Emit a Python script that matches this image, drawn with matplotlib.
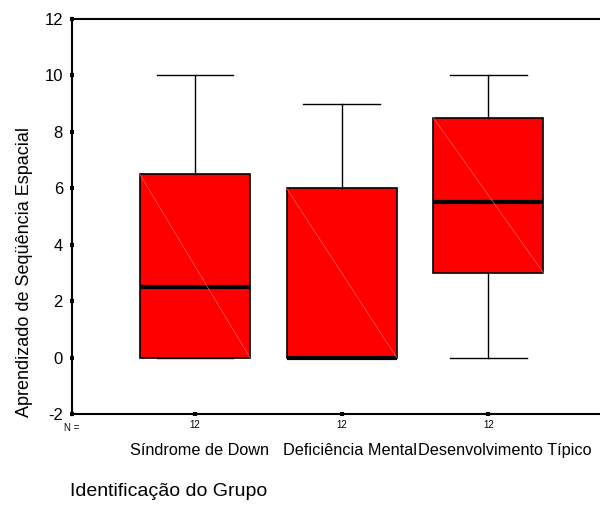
import matplotlib
matplotlib.use("Agg")
from matplotlib import pyplot as plt

# Dados (boxplot estilo SPSS)
grupos   = ["Síndrome de Down", "Deficiência Mental", "Desenvolvimento Típico"]
n_grupo  = [12, 12, 12]
minimos  = [0, 0, 0]
q1       = [0, 0, 3]
medianas = [2.5, 0, 5.5]
q3       = [6.5, 6, 8.5]
maximos  = [10, 9, 10]

plt.rcParams['font.family'] = ['Liberation Sans', 'DejaVu Sans']

fig = plt.figure(figsize=(6, 5.07), dpi=100)
ax = fig.add_axes([0.12, 0.1834, 0.88, 0.7791])

stats = []
for i in range(len(grupos)):
    stats.append({"med": medianas[i], "q1": q1[i], "q3": q3[i],
                  "whislo": minimos[i], "whishi": maximos[i], "fliers": []})

pos = [1, 2, 3]
ax.bxp(stats, positions=pos, widths=0.75, patch_artist=True, showfliers=False,
       boxprops=dict(facecolor="#ff0000", edgecolor="black", linewidth=1.2),
       medianprops=dict(color="black", linewidth=3, solid_capstyle="butt"),
       whiskerprops=dict(color="black", linewidth=1),
       capprops=dict(color="black", linewidth=1), capwidths=0.52)

# linha diagonal clara dentro das caixas (artefato do SPSS)
for i, p in enumerate(pos):
    ax.plot([p - 0.375, p + 0.375], [q3[i], q1[i]], color="#ff6060",
            linewidth=0.5, zorder=3)

ax.set_xlim(0.163, 3.76)
ax.set_ylim(-2, 12)
ax.set_yticks(range(-2, 13, 2))
ax.set_yticklabels([str(v) for v in range(-2, 13, 2)], fontsize=12)
ax.set_xticks(pos)
ax.set_xticklabels([str(n) for n in n_grupo], fontsize=7)
ax.tick_params(axis="both", direction="inout", length=3, width=3)
ax.tick_params(axis="y", pad=5)
ax.tick_params(axis="x", pad=3)
ax.spines["right"].set_visible(False)
for s in ["left", "bottom", "top"]:
    ax.spines[s].set_linewidth(1.5)

ax.annotate("N =", xy=(0, 0), xycoords="axes fraction", xytext=(0, -10),
            textcoords="offset points", fontsize=7, ha="center", va="center")

# os rótulos do SPSS ficam um pouco deslocados à direita dos ticks
desloc = [3, 6, 12]
for i, p in enumerate(pos):
    ax.annotate(grupos[i], xy=(p, 0), xycoords=("data", "axes fraction"),
                xytext=(desloc[i], -26), textcoords="offset points",
                fontsize=11.7, ha="center", va="center")

ax.set_ylabel("Aprendizado de Seqüência Espacial", fontsize=13)
ax.yaxis.set_label_coords(-0.074, 0.36)
fig.text(0.117, 0.03, "Identificação do Grupo", fontsize=14, ha="left",
         va="center")

fig.savefig("out.png", dpi=100)
